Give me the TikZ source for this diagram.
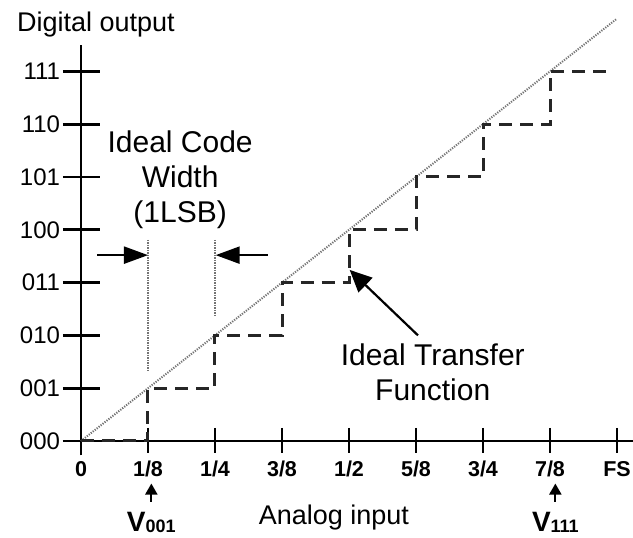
\documentclass[tikz,border=0pt]{standalone}
\usepackage{fontspec}
\setmainfont{Liberation Sans}
\usetikzlibrary{arrows.meta}
\newcommand{\codetick}[3] % y in LSB, output code, node name
{
	% tick across the axis
	\draw[axis] (-0.27,#1) -- (0.28,#1);
	% code to the left
	\node[ylab] (#3) at (-0.31,#1) {#2};
}
\newcommand{\inputtick}[3] % x in LSB, input fraction, node name
{
	% tick across the axis
	\draw[axis] (#1,0.25) -- (#1,-0.22);
	% fraction below
	\node[xlab] (#3) at (#1,-0.68) {#2};
}

\begin{document}
\begin{tikzpicture}[x=67pt, y=52.8pt,
	axis/.style={line width=2.8pt},
	ylab/.style={anchor=east, inner sep=0pt, font=\fontsize{24}{26}\selectfont},
	xlab/.style={anchor=base, inner sep=0pt, font=\fontsize{21.5}{24}\selectfont\bfseries},
	stair/.style={line width=3pt, black!85, dash pattern=on 13pt off 8pt},
	dotline/.style={line width=2pt, black!55, dash pattern=on 1.2pt off 1.3pt},
	lbl/.style={inner sep=0pt, align=center, font=\fontsize{30}{35}\selectfont},
	ttl/.style={inner sep=0pt, font=\fontsize{27}{30}\selectfont},
	vlab/.style={anchor=base, inner sep=0pt, font=\fontsize{28}{30}\selectfont\bfseries},
	bigarrow/.style={line width=2.2pt, -{Triangle[length=22pt,width=20pt]}},
	widtharrow/.style={line width=2.2pt, -{Triangle[length=24pt,width=17pt]}},
	smallarrow/.style={line width=2pt, -{Triangle[length=11pt,width=12pt]}}]
	% page 633 x 538, plot origin at (81,441)
	\useasboundingbox (-81pt,-97pt) rectangle (552pt,441pt);
	% axes
	\draw[axis] (0,-0.27) -- (0,7.5);
	\draw[axis] (-0.27,0) -- (8.3,0);
	% output codes
	\codetick{0}{000}{y000};
	\codetick{1}{001}{y001};
	\codetick{2}{010}{y010};
	\codetick{3}{011}{y011};
	\codetick{4}{100}{y100};
	\codetick{5}{101}{y101};
	\codetick{6}{110}{y110};
	\codetick{7}{111}{y111};
	% input fractions
	\inputtick{0}{0}{x0};
	\inputtick{1}{1/8}{x1};
	\inputtick{2}{1/4}{x2};
	\inputtick{3}{3/8}{x3};
	\inputtick{4}{1/2}{x4};
	\inputtick{5}{5/8}{x5};
	\inputtick{6}{3/4}{x6};
	\inputtick{7}{7/8}{x7};
	\inputtick{8}{FS}{x8};
	% ideal straight line
	\draw[dotline] (0,0) -- (8,8);
	% staircase
	\draw[stair] (0,0) -- (1,0) -- (1,1) -- (2,1) -- (2,2) -- (3,2) -- (3,3) -- (4,3) -- (4,4)
		-- (5,4) -- (5,5) -- (6,5) -- (6,6) -- (7,6) -- (7,7) -- (7.94,7);
	% code width markers
	\draw[dotline] (1,3.81) -- (1,1.34);
	\draw[dotline] (2,3.81) -- (2,2.35);
	\coordinate (wl) at (0.24,3.52);
	\coordinate (wla) at (1,3.52);
	\coordinate (wr) at (2.79,3.52);
	\coordinate (wra) at (2.01,3.52);
	\draw[widtharrow] (wl) -- (wla);
	\draw[widtharrow] (wr) -- (wra);
	% labels
	\node[ttl, anchor=base west] (dout) at (-64pt,409pt) {Digital output};
	\node[ttl, anchor=base] (ain) at (253pt,-84pt) {Analog input};
	\node[lbl, anchor=north] (icw) at (1.48,5.87) {Ideal Code\\Width\\(1LSB)};
	\node[lbl, anchor=north] (itf) at (5.25,1.84) {Ideal Transfer\\Function};
	\coordinate (itail) at (5.03,2.0);
	\coordinate (itip) at (4.01,3.24);
	\draw[bigarrow] (itail) -- (itip);
	% transition voltages
	\node[vlab] (v001) at (1.05,-1.71) {V{\fontsize{18}{19}\selectfont\raisebox{-1.5pt}{001}}};
	\node[vlab] (v111) at (7.08,-1.71) {V{\fontsize{18}{19}\selectfont\raisebox{-1.5pt}{111}}};
	\draw[smallarrow, shorten <=10pt, shorten >=6pt] (v001.north) -- (v001.north |- x1.south);
	\draw[smallarrow, shorten <=10pt, shorten >=6pt] (v111.north) -- (v111.north |- x7.south);
\end{tikzpicture}
\end{document}
